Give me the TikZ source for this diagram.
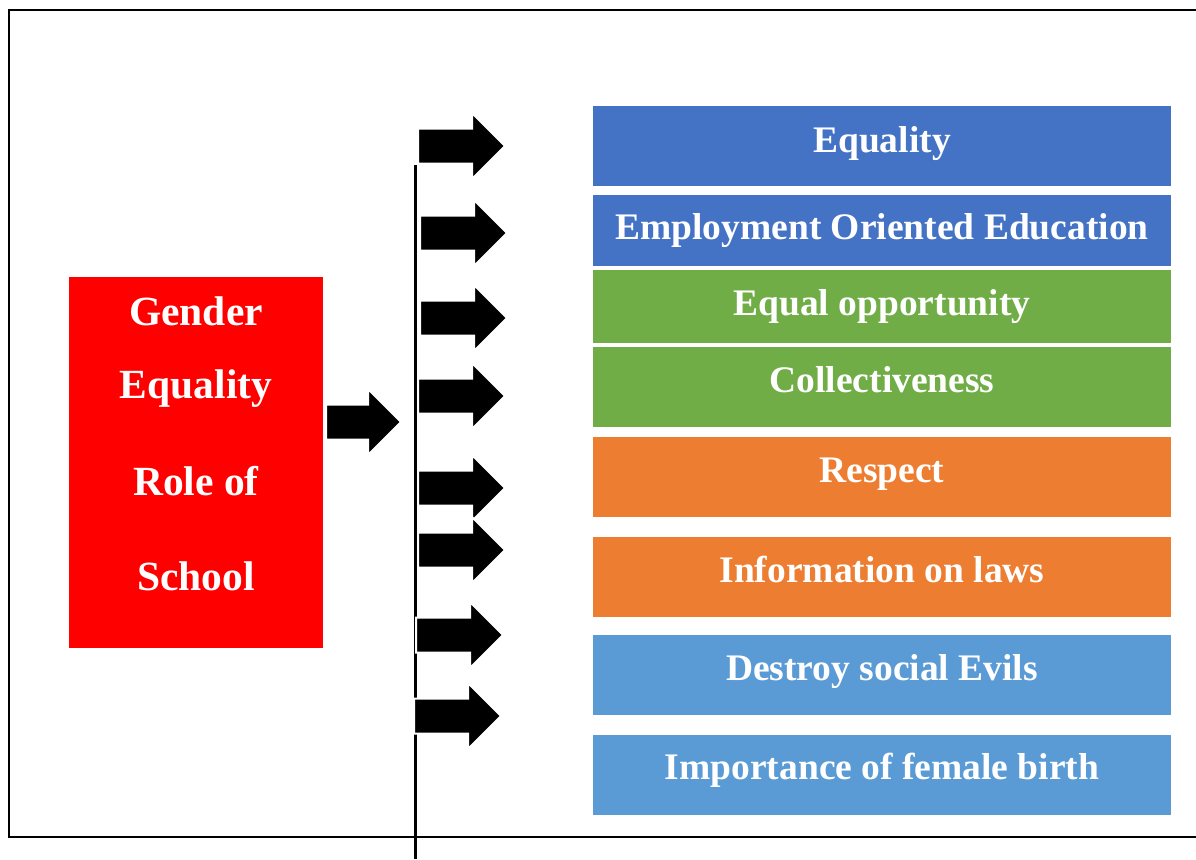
\documentclass[tikz,border=0pt]{standalone}
\usepackage{fontspec}
\setmainfont{Liberation Serif}
\definecolor{cblue}{HTML}{4472C4}
\definecolor{cgreen}{HTML}{70AD47}
\definecolor{corange}{HTML}{ED7D31}
\definecolor{clight}{HTML}{5B9BD5}
\newcommand{\blockarr}[4]{%
  \coordinate (#1) at (#2,#3);
  \filldraw[blockarrow, shift={(#1)}] (0,-17.5) -- (#4-33,-17.5) -- (#4-33,-33) -- (#4,0)
    -- (#4-33,33) -- (#4-33,17.5) -- (0,17.5) -- cycle;}
\begin{document}
\begin{tikzpicture}[x=1pt,y=-1pt,
  blockarrow/.style={fill=black, draw=white, line width=2pt, line join=miter},
  itembox/.style={rectangle, inner sep=0pt, minimum width=578pt, anchor=north west},
  itemtext/.style={text=white, font=\bfseries\fontsize{37.5}{40}\selectfont, anchor=base, inner sep=0pt},
  redtext/.style={text=white, font=\bfseries\fontsize{41.5}{44}\selectfont, anchor=base, inner sep=0pt},
  frame/.style={line width=2.2pt}
]
\useasboundingbox (0,0) rectangle (1196,859);
% outer frame
\draw[frame] (1196,10) -- (9,10) -- (9,837) -- (1196,837);
% vertical line
\coordinate (vtop) at (415,165);
\coordinate (vbot) at (415,859);
\draw[line width=3pt] (vtop) -- (vbot);
% red box
\node[rectangle, fill=red, inner sep=0pt, minimum width=254pt, minimum height=371pt, anchor=north west] (red) at (69,277) {};
\node[redtext] (r1) at (196,325) {Gender};
\node[redtext] (r2) at (196,398) {Equality};
\node[redtext] (r3) at (196,495) {Role of};
\node[redtext] (r4) at (196,590) {School};
% left arrow
\blockarr{a0}{326}{422}{75}
% right arrows
\blockarr{a1}{418}{146}{87}
\blockarr{a2}{420}{233}{87}
\blockarr{a3}{420}{318}{87}
\blockarr{a4}{418}{396}{87}
\blockarr{a5}{418}{488}{87}
\blockarr{a6}{418}{550}{87}
\blockarr{a7}{416}{635}{87}
\blockarr{a8}{414}{716}{87}
% right boxes
\node[itembox, fill=cblue, minimum height=80pt] (b1) at (593,106) {};
\node[itembox, fill=cblue, minimum height=71pt] (b2) at (593,195) {};
\node[itembox, fill=cgreen, minimum height=73pt] (b3) at (593,270) {};
\node[itembox, fill=cgreen, minimum height=80pt] (b4) at (593,347) {};
\node[itembox, fill=corange, minimum height=80pt] (b5) at (593,437) {};
\node[itembox, fill=corange, minimum height=80pt] (b6) at (593,537) {};
\node[itembox, fill=clight, minimum height=80pt] (b7) at (593,635) {};
\node[itembox, fill=clight, minimum height=80pt] (b8) at (593,735) {};
\node[itemtext] (t1) at (882,152) {Equality};
\node[itemtext] (t2) at (882,239) {Employment Oriented Education};
\node[itemtext] (t3) at (882,315) {Equal opportunity};
\node[itemtext] (t4) at (882,392) {Collectiveness};
\node[itemtext] (t5) at (882,482) {Respect};
\node[itemtext] (t6) at (882,582) {Information on laws};
\node[itemtext] (t7) at (882,680) {Destroy social Evils};
\node[itemtext] (t8) at (882,779) {Importance of female birth};
\end{tikzpicture}
\end{document}
